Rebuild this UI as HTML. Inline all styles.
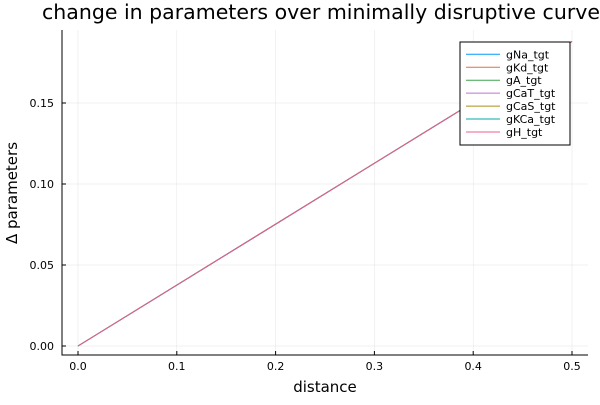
<!DOCTYPE html>
<html><head><meta charset="utf-8"><style>
body{margin:0;background:#fff}
svg{font-family:"DejaVu Sans","Liberation Sans",sans-serif}
</style></head><body>
<svg id="c" width="600" height="400" xmlns="http://www.w3.org/2000/svg"></svg>
<script>
const xTicks=[0,0.1,0.2,0.3,0.4,0.5];
const xTickLabels=["0.0","0.1","0.2","0.3","0.4","0.5"];
const yTicks=[0,0.05,0.10,0.15];
const yTickLabels=["0.00","0.05","0.10","0.15"];
const seriesNames=["gNa_tgt","gKd_tgt","gA_tgt","gCaT_tgt","gCaS_tgt","gKCa_tgt","gH_tgt"];
const seriesColors=["#009af9","#e26f46","#3da44d","#c271d2","#ac8e18","#00a9ad","#ed5e93"];
const distances=[0,0.5];
const deltas=[0,0.188];
const L=62,R=588,T=30,B=355;
const sx=v=>78+(v-0)*(572-78)/0.5;
const sy=v=>346-v*(346-103)/0.15;
const svg=document.getElementById('c');
const NS='http://www.w3.org/2000/svg';
function mk(t,a,txt){const e=document.createElementNS(NS,t);for(const k in a)e.setAttribute(k,a[k]);if(txt!==undefined)e.textContent=txt;svg.appendChild(e);return e;}
xTicks.forEach((v,i)=>{
 const g=mk('line',{x1:sx(v),x2:sx(v),y1:T,y2:B,stroke:'#000','stroke-opacity':0.1,'stroke-width':0.5});
 
 
 const t=mk('text',{x:sx(v),y:B+15,'font-size':11,'text-anchor':'middle',fill:'#000'},xTickLabels[i]);
 
 
 mk('line',{x1:sx(v),x2:sx(v),y1:B,y2:B-4,stroke:'#000','stroke-width':1});
});
yTicks.forEach((v,i)=>{
 const g=mk('line',{x1:L,x2:R,y1:sy(v),y2:sy(v),stroke:'#000','stroke-opacity':0.1,'stroke-width':0.5});
 
 
 const t=mk('text',{x:L-8,y:sy(v)+4,'font-size':11,'text-anchor':'end',fill:'#000'},yTickLabels[i]);
 
 
 mk('line',{x1:L,x2:L+4,y1:sy(v),y2:sy(v),stroke:'#000','stroke-width':1});
});
const ax=mk('path',{d:`M${L},${T}V${B}H${R}`,fill:'none',stroke:'#000','stroke-width':1});


seriesNames.forEach((n,i)=>{
 const p=mk('polyline',{points:distances.map((d,j)=>sx(d)+','+sy(deltas[j])).join(' '),fill:'none',stroke:seriesColors[i],'stroke-width':1});
 
 
});
const lg=mk('rect',{x:460,y:42,width:110,height:103,fill:'#fff',stroke:'#000','stroke-width':1});


seriesNames.forEach((n,i)=>{
 const y=54.3+i*12.95;
 const l=mk('line',{x1:466,x2:500,y1:y,y2:y,stroke:seriesColors[i],'stroke-width':1});
 
 
 const t=mk('text',{x:506,y:y+4,'font-size':11,fill:'#000'},n);
 
 
});
const ti=mk('text',{x:42,y:19,'font-size':20.5,fill:'#000'},'change in parameters over minimally disruptive curve');


const xt=mk('text',{x:325,y:392,'font-size':15,'text-anchor':'middle',fill:'#000'},'distance');


const yt=mk('text',{x:0,y:0,'font-size':15,'text-anchor':'middle',fill:'#000',transform:'translate(17,193) rotate(-90)'},'Δ parameters');


</script>
</body></html>
